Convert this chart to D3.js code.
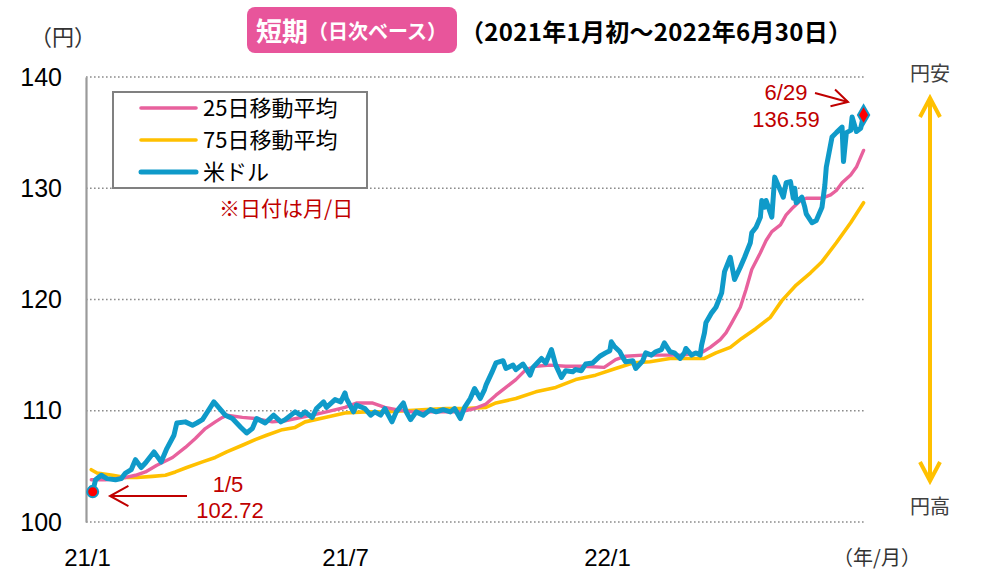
<!DOCTYPE html>
<html>
<head>
<meta charset="utf-8">
<script src="https://cdn.jsdelivr.net/npm/d3@7"></script>
<style>
  body { margin: 0; background: #fff; }
  svg { display: block; font-family: "Liberation Sans", Arial, "Noto Sans CJK JP", sans-serif; }
</style>
</head>
<body>
<svg id="chart" width="989" height="588"></svg>
<script>
// USD/JPY daily
const usd = [
  ['2021-01-04', 103.1], ['2021-01-05', 102.72], ['2021-01-07', 103.8], ['2021-01-11', 104.2], ['2021-01-15', 103.9],
  ['2021-01-21', 103.8], ['2021-01-25', 103.9], ['2021-01-28', 104.4], ['2021-02-01', 104.7], ['2021-02-04', 105.6],
  ['2021-02-08', 104.9], ['2021-02-11', 105.3], ['2021-02-17', 106.3], ['2021-02-22', 105.4], ['2021-02-26', 106.6],
  ['2021-03-03', 107.8], ['2021-03-05', 108.9], ['2021-03-11', 109.0], ['2021-03-16', 108.7], ['2021-03-19', 108.9],
  ['2021-03-23', 109.2], ['2021-03-26', 109.8], ['2021-03-31', 110.8], ['2021-04-02', 110.5], ['2021-04-08', 109.6],
  ['2021-04-13', 109.3], ['2021-04-19', 108.5], ['2021-04-23', 108.0], ['2021-04-27', 108.4], ['2021-04-30', 109.3],
  ['2021-05-06', 108.9], ['2021-05-12', 109.6], ['2021-05-17', 109.0], ['2021-05-20', 109.2], ['2021-05-27', 109.9],
  ['2021-05-31', 109.6], ['2021-06-03', 109.9], ['2021-06-08', 109.4], ['2021-06-11', 110.2], ['2021-06-16', 110.8],
  ['2021-06-18', 110.3], ['2021-06-24', 111.0], ['2021-06-28', 110.8], ['2021-07-01', 111.6], ['2021-07-02', 111.1],
  ['2021-07-07', 109.9], ['2021-07-09', 110.5], ['2021-07-15', 110.2], ['2021-07-19', 109.6], ['2021-07-22', 109.9],
  ['2021-07-26', 109.6], ['2021-07-29', 110.2], ['2021-08-03', 109.0], ['2021-08-06', 109.9], ['2021-08-11', 110.7],
  ['2021-08-13', 109.9], ['2021-08-16', 109.2], ['2021-08-20', 109.9], ['2021-08-25', 109.6], ['2021-08-30', 110.1],
  ['2021-09-03', 109.9], ['2021-09-08', 110.1], ['2021-09-13', 109.9], ['2021-09-16', 110.2], ['2021-09-20', 109.3],
  ['2021-09-23', 110.3], ['2021-09-27', 111.1], ['2021-09-30', 112.0], ['2021-10-04', 111.1], ['2021-10-07', 111.9],
  ['2021-10-08', 112.3], ['2021-10-12', 113.4], ['2021-10-15', 114.3], ['2021-10-20', 114.5], ['2021-10-22', 113.8],
  ['2021-10-27', 114.1], ['2021-10-29', 113.7], ['2021-11-03', 114.2], ['2021-11-08', 113.2], ['2021-11-10', 113.9],
  ['2021-11-16', 114.7], ['2021-11-19', 114.3], ['2021-11-23', 115.5], ['2021-11-26', 114.1], ['2021-11-30', 113.0],
  ['2021-12-03', 113.6], ['2021-12-08', 113.5], ['2021-12-10', 113.7], ['2021-12-14', 113.6], ['2021-12-17', 114.2],
  ['2021-12-22', 114.3], ['2021-12-27', 114.9], ['2021-12-31', 115.2], ['2022-01-03', 115.4], ['2022-01-04', 116.2],
  ['2022-01-06', 115.8], ['2022-01-10', 115.3], ['2022-01-12', 114.8], ['2022-01-14', 114.4], ['2022-01-19', 114.5],
  ['2022-01-21', 113.8], ['2022-01-26', 114.5], ['2022-01-28', 115.2], ['2022-02-01', 115.0], ['2022-02-04', 115.3],
  ['2022-02-08', 115.5], ['2022-02-10', 116.1], ['2022-02-14', 115.3], ['2022-02-17', 115.2], ['2022-02-21', 114.7],
  ['2022-02-24', 115.2], ['2022-02-25', 115.6], ['2022-03-01', 115.0], ['2022-03-04', 115.2], ['2022-03-07', 115.0],
  ['2022-03-08', 115.9], ['2022-03-10', 117.0], ['2022-03-11', 117.9], ['2022-03-15', 118.8], ['2022-03-18', 119.3],
  ['2022-03-22', 120.6], ['2022-03-24', 122.5], ['2022-03-28', 123.8], ['2022-03-31', 121.8], ['2022-04-04', 122.9],
  ['2022-04-07', 123.8], ['2022-04-11', 125.1], ['2022-04-12', 126.0], ['2022-04-15', 126.5], ['2022-04-18', 127.4],
  ['2022-04-19', 128.9], ['2022-04-21', 128.3], ['2022-04-22', 128.9], ['2022-04-26', 127.4], ['2022-04-28', 131.0],
  ['2022-05-02', 129.8], ['2022-05-04', 129.2], ['2022-05-06', 130.5], ['2022-05-09', 130.6], ['2022-05-11', 129.1],
  ['2022-05-12', 130.0], ['2022-05-13', 128.7], ['2022-05-17', 129.2], ['2022-05-19', 128.3], ['2022-05-20', 127.7],
  ['2022-05-24', 126.9], ['2022-05-27', 127.1], ['2022-05-31', 128.3], ['2022-06-02', 130.3], ['2022-06-03', 131.9],
  ['2022-06-07', 134.6], ['2022-06-10', 135.0], ['2022-06-14', 135.5], ['2022-06-15', 132.4], ['2022-06-17', 135.0],
  ['2022-06-20', 135.2], ['2022-06-21', 136.4], ['2022-06-24', 135.1], ['2022-06-27', 135.4], ['2022-06-29', 136.59],
];

const ma25 = [
  ['2021-01-04', 103.8], ['2021-01-14', 103.8], ['2021-01-26', 103.95], ['2021-02-04', 104.2], ['2021-02-11', 104.5],
  ['2021-02-19', 105.1], ['2021-03-02', 105.8], ['2021-03-11', 106.7], ['2021-03-18', 107.5], ['2021-03-25', 108.4],
  ['2021-04-01', 109.0], ['2021-04-06', 109.4], ['2021-04-09', 109.6], ['2021-04-20', 109.4], ['2021-04-29', 109.3],
  ['2021-05-11', 109.0], ['2021-05-20', 109.1], ['2021-06-08', 109.6], ['2021-06-18', 109.9], ['2021-07-01', 110.3],
  ['2021-07-09', 110.7], ['2021-07-20', 110.7], ['2021-07-29', 110.3], ['2021-08-06', 110.1], ['2021-08-17', 109.9],
  ['2021-08-30', 109.9], ['2021-09-10', 109.9], ['2021-09-20', 109.9], ['2021-09-30', 110.2], ['2021-10-08', 110.6],
  ['2021-10-15', 111.4], ['2021-10-22', 112.1], ['2021-10-29', 112.8], ['2021-11-05', 113.7], ['2021-11-12', 114.0],
  ['2021-11-22', 114.1], ['2021-12-03', 114.0], ['2021-12-15', 114.0], ['2021-12-30', 113.9], ['2022-01-07', 114.6],
  ['2022-01-14', 114.9], ['2022-01-26', 115.0], ['2022-02-09', 115.0], ['2022-02-23', 115.0], ['2022-03-09', 115.3],
  ['2022-03-14', 115.7], ['2022-03-21', 116.4], ['2022-03-25', 117.0], ['2022-03-29', 117.9], ['2022-04-04', 119.3],
  ['2022-04-08', 120.9], ['2022-04-12', 122.7], ['2022-04-18', 124.2], ['2022-04-22', 125.3], ['2022-04-26', 126.1],
  ['2022-05-02', 126.7], ['2022-05-06', 127.6], ['2022-05-11', 128.3], ['2022-05-16', 128.9], ['2022-05-20', 129.1],
  ['2022-05-27', 129.1], ['2022-05-31', 129.1], ['2022-06-06', 129.4], ['2022-06-10', 129.8], ['2022-06-14', 130.5],
  ['2022-06-20', 131.2], ['2022-06-24', 131.9], ['2022-06-29', 133.4],
];

const ma75 = [
  ['2021-01-04', 104.7], ['2021-01-08', 104.4], ['2021-01-19', 104.2], ['2021-01-28', 104.0], ['2021-02-05', 104.0],
  ['2021-02-16', 104.1], ['2021-02-25', 104.2], ['2021-03-04', 104.5], ['2021-03-12', 104.9], ['2021-03-23', 105.4],
  ['2021-04-01', 105.8], ['2021-04-09', 106.3], ['2021-04-20', 106.9], ['2021-04-29', 107.4], ['2021-05-07', 107.8],
  ['2021-05-18', 108.3], ['2021-05-27', 108.5], ['2021-06-03', 109.0], ['2021-06-17', 109.4], ['2021-07-01', 109.8],
  ['2021-07-15', 109.9], ['2021-07-29', 109.9], ['2021-08-12', 110.0], ['2021-08-27', 110.1], ['2021-09-10', 110.2],
  ['2021-09-24', 110.2], ['2021-10-08', 110.3], ['2021-10-15', 110.7], ['2021-10-29', 111.1], ['2021-11-12', 111.7],
  ['2021-11-26', 112.1], ['2021-12-10', 112.8], ['2021-12-24', 113.2], ['2022-01-07', 113.8], ['2022-01-19', 114.3],
  ['2022-01-31', 114.4], ['2022-02-14', 114.7], ['2022-02-28', 114.7], ['2022-03-10', 114.7], ['2022-03-18', 115.2],
  ['2022-03-28', 115.7], ['2022-04-05', 116.5], ['2022-04-15', 117.4], ['2022-04-25', 118.4], ['2022-05-03', 119.9],
  ['2022-05-13', 121.3], ['2022-05-23', 122.4], ['2022-05-31', 123.4], ['2022-06-10', 125.1], ['2022-06-20', 126.9],
  ['2022-06-29', 128.7],
];

const yTicks = [100, 110, 120, 130, 140];
const xTicks = ['2021-01-01', '2021-07-01', '2022-01-01'];
const legendItems = ['25日移動平均', '75日移動平均', '米ドル'];
const callouts = [
  { date: '2021-01-05', value: 102.72, label: ['1/5', '102.72'] },
  { date: '2022-06-29', value: 136.59, label: ['6/29', '136.59'] },
];

const BLUE = '#0f9ac9';
const PINK = '#e8619d';
const YELLOW = '#ffc000';
const RED = '#c00000';
const JP = '"Noto Sans CJK JP", "Liberation Sans", sans-serif';

const parse = d3.timeParse('%Y-%m-%d');
const svg = d3.select('#chart');

// trading-day axis: half years take the same width
const x = d3.scaleTime()
  .domain(['2021-01-01', '2021-07-01', '2022-01-01', '2022-06-30'].map(parse))
  .range([87, 345, 607, 865]);
const y = d3.scaleLinear([100, 140], [522, 77]);

// grid
svg.append('g')
  .selectAll('line')
  .data(yTicks)
  .join('line')
  .attr('x1', 86)
  .attr('x2', 866)
  .attr('y1', (d) => y(d))
  .attr('y2', (d) => y(d))
  .attr('stroke', '#8c8c8c')
  .attr('stroke-width', 1.6)
  .attr('stroke-dasharray', '1.6 2.4');

// y axis
const yAxis = svg.append('g')
  .attr('transform', 'translate(86,0)')
  .call(d3.axisLeft(y).tickValues(yTicks).tickSize(0).tickPadding(24));
yAxis.select('.domain').attr('stroke', '#9a9a9a').attr('stroke-width', 2.2);
yAxis.selectAll('text')
  .attr('font-size', 25)
  .attr('font-family', 'Liberation Sans, Arial, sans-serif')
  .attr('fill', '#000');

// x axis
const xAxis = svg.append('g')
  .attr('transform', `translate(0,${y(100)})`)
  .call(d3.axisBottom(x).tickValues(xTicks.map(parse)).tickSize(0).tickPadding(27)
    .tickFormat(d3.timeFormat('%y/%-m')));
xAxis.select('.domain').remove();
xAxis.selectAll('text')
  .attr('font-size', 24)
  .attr('font-family', 'Liberation Sans, Arial, sans-serif')
  .attr('fill', '#000');

svg.append('text')
  .attr('x', 877)
  .attr('y', 565)
  .attr('text-anchor', 'middle')
  .attr('font-family', JP)
  .attr('font-size', 20)
  .attr('fill', '#333')
  .text('（年/月）');

svg.append('text')
  .attr('x', 63)
  .attr('y', 45)
  .attr('text-anchor', 'middle')
  .attr('font-family', JP)
  .attr('font-size', 22)
  .attr('fill', '#333')
  .text('（円）');

// lines
const line = d3.line()
  .x((d) => x(parse(d[0])))
  .y((d) => y(d[1]));

const series = [
  { data: ma75, color: YELLOW, width: 3.6 },
  { data: ma25, color: PINK, width: 3.4 },
  { data: usd, color: BLUE, width: 5 },
];
svg.append('g')
  .selectAll('path')
  .data(series)
  .join('path')
  .attr('d', (d) => line(d.data))
  .attr('fill', 'none')
  .attr('stroke', (d) => d.color)
  .attr('stroke-width', (d) => d.width)
  .attr('stroke-linejoin', 'round')
  .attr('stroke-linecap', 'round');

// markers at first / last callout
svg.append('circle')
  .attr('cx', x(parse(callouts[0].date)))
  .attr('cy', y(callouts[0].value))
  .attr('r', 5.5)
  .attr('fill', '#ff0000')
  .attr('stroke', BLUE)
  .attr('stroke-width', 2);
svg.append('path')
  .attr('d', d3.symbol().type(d3.symbolDiamond).size(110)())
  .attr('transform', `translate(${x(parse(callouts[1].date))},${y(callouts[1].value)})`)
  .attr('fill', '#ff0000')
  .attr('stroke', BLUE)
  .attr('stroke-width', 2);

// title
svg.append('rect')
  .attr('x', 247).attr('y', 7)
  .attr('width', 210).attr('height', 46)
  .attr('rx', 8)
  .attr('fill', '#e8559b');
const title = svg.append('text')
  .attr('x', 256)
  .attr('y', 41)
  .attr('font-family', JP)
  .attr('font-weight', 'bold')
  .attr('fill', '#fff');
title.append('tspan').attr('font-size', 26).text('短期');
title.append('tspan').attr('font-size', 20).attr('dy', -2).text('（日次ベース）');

svg.append('text')
  .attr('x', 460)
  .attr('y', 41)
  .attr('font-family', JP)
  .attr('font-weight', 'bold')
  .attr('font-size', 24)
  .attr('textLength', 392)
  .attr('fill', '#000')
  .text('（2021年1月初～2022年6月30日）');

// legend
const legend = svg.append('g');
legend.append('rect')
  .attr('x', 113).attr('y', 92)
  .attr('width', 254).attr('height', 96)
  .attr('fill', '#fff')
  .attr('stroke', '#808080')
  .attr('stroke-width', 2);
const rows = legend.selectAll('g')
  .data(legendItems)
  .join('g')
  .attr('transform', (d, i) => `translate(0,${108 + i * 32})`);
rows.append('line')
  .attr('x1', 141).attr('x2', 196)
  .attr('stroke', (d, i) => [PINK, YELLOW, BLUE][i])
  .attr('stroke-width', (d, i) => (i === 2 ? 5 : 3.6))
  .attr('stroke-linecap', 'round');
rows.append('text')
  .attr('x', 203)
  .attr('y', 8)
  .attr('font-family', JP)
  .attr('font-size', 22)
  .attr('fill', '#000')
  .text((d) => d);

svg.append('text')
  .attr('x', 219)
  .attr('y', 216)
  .attr('font-family', JP)
  .attr('font-size', 21)
  .attr('fill', RED)
  .text('※日付は月/日');

// callout texts and arrows
function arrow(g, x1, y1, x2, y2, color, width, arm, spread) {
  const a = Math.atan2(y2 - y1, x2 - x1);
  g.append('line')
    .attr('x1', x1).attr('y1', y1).attr('x2', x2).attr('y2', y2)
    .attr('stroke', color).attr('stroke-width', width);
  g.append('path')
    .attr('d', `M${x2 - arm * Math.cos(a - spread)},${y2 - arm * Math.sin(a - spread)}L${x2},${y2}L${x2 - arm * Math.cos(a + spread)},${y2 - arm * Math.sin(a + spread)}`)
    .attr('fill', 'none')
    .attr('stroke', color)
    .attr('stroke-width', width)
    .attr('stroke-linejoin', 'miter');
}

const notes = svg.append('g');
const n1 = notes.append('text')
  .attr('text-anchor', 'middle')
  .attr('font-size', 22)
  .attr('fill', RED);
n1.append('tspan').attr('x', 228).attr('y', 492).text(callouts[0].label[0]);
n1.append('tspan').attr('x', 230).attr('y', 518).text(callouts[0].label[1]);
arrow(notes, 187, 496, 110, 496, RED, 2, 21, 0.5);

const n2 = notes.append('text')
  .attr('text-anchor', 'middle')
  .attr('font-size', 22)
  .attr('fill', RED);
n2.append('tspan').attr('x', 786).attr('y', 100).text(callouts[1].label[0]);
n2.append('tspan').attr('x', 786).attr('y', 127).text(callouts[1].label[1]);
arrow(notes, 815, 93, 848, 102, RED, 2, 18, 0.5);

// yen direction arrow
const side = svg.append('g');
side.append('line')
  .attr('x1', 930).attr('x2', 930)
  .attr('y1', 99).attr('y2', 480)
  .attr('stroke', YELLOW).attr('stroke-width', 4);
side.append('path')
  .attr('d', 'M920,117L930,98L940,117M920,462L930,481L940,462')
  .attr('fill', 'none')
  .attr('stroke', YELLOW)
  .attr('stroke-width', 4)
  .attr('stroke-linejoin', 'miter');
side.append('text')
  .attr('x', 930).attr('y', 81)
  .attr('text-anchor', 'middle')
  .attr('font-family', JP)
  .attr('font-size', 20)
  .attr('fill', '#404040')
  .text('円安');
side.append('text')
  .attr('x', 930).attr('y', 514)
  .attr('text-anchor', 'middle')
  .attr('font-family', JP)
  .attr('font-size', 20)
  .attr('fill', '#404040')
  .text('円高');
</script>
</body>
</html>
